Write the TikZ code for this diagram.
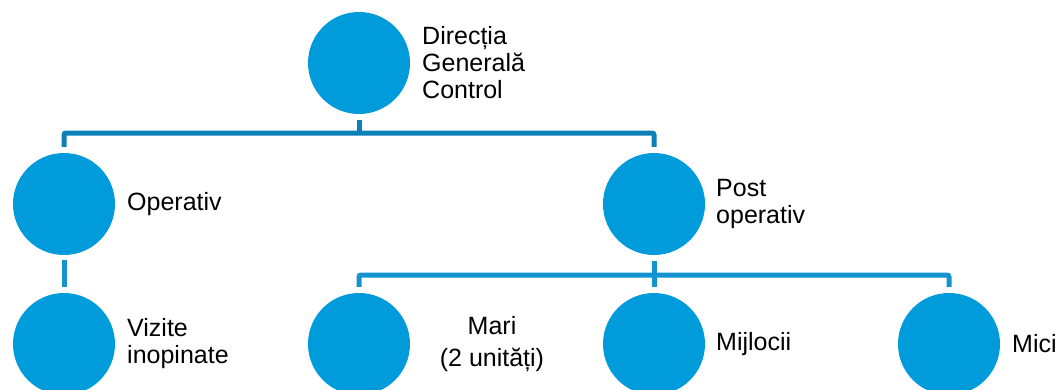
\documentclass[tikz,border=0pt]{standalone}
\usepackage{fontspec}
\setmainfont{Liberation Sans}
\definecolor{disc}{HTML}{009BDB}
\definecolor{linkA}{HTML}{0E80B8}
\definecolor{linkB}{HTML}{1393D0}
\begin{document}
\begin{tikzpicture}[x=1pt,y=-1pt,
  unit/.style={circle, fill=disc, minimum size=102pt, inner sep=0pt},
  caption/.style={anchor=west, align=left, inner sep=0pt, font=\fontsize{25}{27}\selectfont},
  linkup/.style={draw=linkA, line width=5pt, rounded corners=2pt},
  linkdown/.style={draw=linkB, line width=5pt, rounded corners=2pt}]
\useasboundingbox (0,0) rectangle (1060,389);
\clip (0,0) rectangle (1060,389);

% organisation units
\node[unit] (top)  at (359,63)  {};
\node[unit] (op)   at (64,204)  {};
\node[unit] (post) at (654,204) {};
\node[unit] (viz)  at (64,344)  {};
\node[unit] (mari) at (359,344) {};
\node[unit] (mij)  at (654,344) {};
\node[unit] (mici) at (949,344) {};

% captions
\node[caption] (topcap)  at (422,63)  {Direcția\\Generală\\Control};
\node[caption] (opcap)   at (127,204) {Operativ};
\node[caption] (postcap) at (716,204) {Post\\operativ};
\node[caption] (vizcap)  at (127,344) {Vizite\\inopinate};
\node[caption, anchor=center, align=center, font=\fontsize{25}{32}\selectfont]
      (maricap) at (492,344) {Mari\\(2 unități)};
\node[caption] (mijcap)  at (716,344) {Mijlocii};
\node[caption] (micicap) at (1012,344) {Mici};

% connectors
\coordinate (j1) at (359,133);
\coordinate (j2) at (654,275);
\draw[linkup] ([yshift=-6pt]top.south) -- (j1);
\draw[linkup] ([yshift=6pt]op.north) |- (j1) -| ([yshift=6pt]post.north);
\draw[linkdown] ([yshift=-6pt]post.south) -- ([yshift=6pt]mij.north);
\draw[linkdown] ([yshift=6pt]mari.north) |- (j2) -| ([yshift=6pt]mici.north);
\draw[linkdown] ([yshift=-5pt]op.south) -- ([yshift=6pt]viz.north);
\end{tikzpicture}
\end{document}
